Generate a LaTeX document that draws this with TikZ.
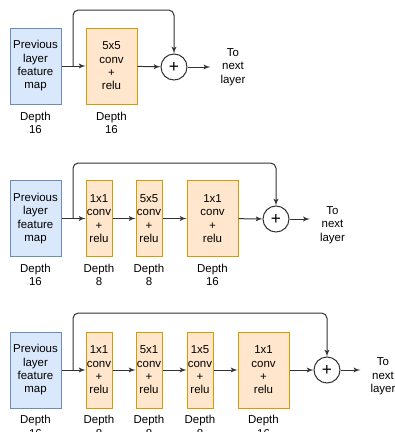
\documentclass[tikz,border=0pt]{standalone}
\usepackage{fontspec}
\setmainfont{Liberation Sans}
\usetikzlibrary{arrows}
\definecolor{prevfill}{HTML}{DAE8FC}
\definecolor{prevline}{HTML}{6C8EBF}
\definecolor{convfill}{HTML}{FFE6CC}
\definecolor{convline}{HTML}{D79B00}
\definecolor{wire}{HTML}{333333}

\begin{document}
\begin{tikzpicture}[x=0.75pt,y=-0.75pt]
        \tikzset{txt/.style = {align=center,inner sep=0pt,font=\fontsize{8.6}{10}\selectfont}};
        \tikzset{prevbox/.style = {txt,shape=rectangle,draw=prevline,fill=prevfill,line width=0.75pt,minimum width=38.25pt,minimum height=57pt}};
        \tikzset{convbox/.style = {txt,shape=rectangle,draw=convline,fill=convfill,line width=0.75pt,minimum width=19.5pt,minimum height=57pt}};
        \tikzset{wideconv/.style = {convbox,minimum width=38.25pt}};
        \tikzset{sum/.style = {shape=circle,draw=wire,line width=0.75pt,minimum size=19.5pt,inner sep=0pt,font=\fontsize{13}{13}\selectfont}};
        \tikzset{outtxt/.style = {txt,inner xsep=7.5pt}};
        \tikzset{edge/.style = {->,> = latex',draw=wire,line width=0.75pt}};
        \useasboundingbox (0,0) rectangle (394,432);
        % first block
        \node[prevbox] (a1) at (35.5,66) {Previous\\layer\\feature\\map};
        \node[wideconv] (c11) at (111.5,66) {5x5\\conv\\+\\relu};
        \node[sum] (p1) at (174,67) {+};
        \node[outtxt] (o1) at (233,67) {To\\next\\layer};
        \node[txt] (d10) at (35.5,123) {Depth\\16};
        \node[txt] (d11) at (111.5,123) {Depth\\16};
        \coordinate (s1) at (73,66);
        \coordinate (t1) at (174,10);
        \draw[edge] (a1) to (c11);
        \draw[edge] (c11) to (p1);
        \draw[edge] (p1) to (o1.west |- p1);
        \draw[edge,rounded corners=4] (s1) |- (t1) -- (p1);
        % second block
        \node[prevbox] (a2) at (35.5,218.5) {Previous\\layer\\feature\\map};
        \node[convbox] (c21) at (99,218.5) {1x1\\conv\\+\\relu};
        \node[convbox] (c22) at (149,218.5) {5x5\\conv\\+\\relu};
        \node[wideconv] (c23) at (212.5,218.5) {1x1\\conv\\+\\relu};
        \node[sum] (p2) at (276,219) {+};
        \node[outtxt] (o2) at (332.5,225) {To\\next\\layer};
        \node[txt] (d20) at (35.5,275) {Depth\\16};
        \node[txt] (d21) at (99,275) {Depth\\8};
        \node[txt] (d22) at (149,275) {Depth\\8};
        \node[txt] (d23) at (212.5,275) {Depth\\16};
        \coordinate (s2) at (73,218.5);
        \coordinate (t2) at (276,163);
        \draw[edge] (a2) to (c21);
        \draw[edge] (c21) to (c22);
        \draw[edge] (c22) to (c23);
        \draw[edge] (c23) to (p2);
        \draw[edge] (p2) to (o2.west |- p2);
        \draw[edge,rounded corners=4] (s2) |- (t2) -- (p2);
        % third block
        \node[prevbox] (a3) at (35.5,370) {Previous\\layer\\feature\\map};
        \node[convbox] (c31) at (99,370) {1x1\\conv\\+\\relu};
        \node[convbox] (c32) at (149,370) {5x1\\conv\\+\\relu};
        \node[convbox] (c33) at (200,370) {1x5\\conv\\+\\relu};
        \node[wideconv] (c34) at (263.5,370) {1x1\\conv\\+\\relu};
        \node[sum] (p3) at (327,370) {+};
        \node[outtxt] (o3) at (383,376.5) {To\\next\\layer};
        \node[txt] (d30) at (35.5,426.5) {Depth\\16};
        \node[txt] (d31) at (99,426.5) {Depth\\8};
        \node[txt] (d32) at (149,426.5) {Depth\\8};
        \node[txt] (d33) at (200,426.5) {Depth\\8};
        \node[txt] (d34) at (263.5,426.5) {Depth\\16};
        \coordinate (s3) at (73,370);
        \coordinate (t3) at (327,313);
        \draw[edge] (a3) to (c31);
        \draw[edge] (c31) to (c32);
        \draw[edge] (c32) to (c33);
        \draw[edge] (c33) to (c34);
        \draw[edge] (c34) to (p3);
        \draw[edge] (p3) to (o3.west |- p3);
        \draw[edge,rounded corners=4] (s3) |- (t3) -- (p3);
    \end{tikzpicture}
\end{document}
